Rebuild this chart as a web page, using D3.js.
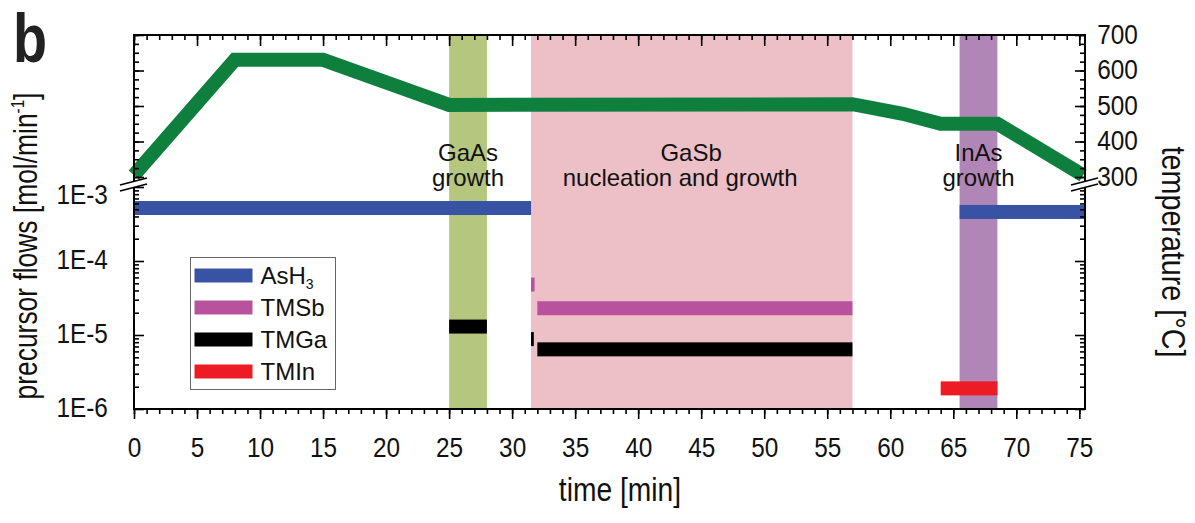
<!DOCTYPE html>
<html>
<head>
<meta charset="utf-8">
<script src="https://cdn.jsdelivr.net/npm/d3@7"></script>
<style>
    body { margin: 0; background: #fff; }
    text { font-family: "Liberation Sans", Arial, sans-serif; }
</style>
</head>
<body>
<svg id="chart" width="1195" height="523"></svg>
<script>
// temperature profile (green line), time in min / temperature in C
var tempTimes = [0, 8, 15, 25, 57, 61, 64, 68.5, 75.3];
var tempValues = [305, 630, 630, 503, 505, 478, 450, 450, 305];

// growth windows (shaded bands)
var bandLabels = [["GaAs", "growth"], ["GaSb", "nucleation and growth"], ["InAs", "growth"]];
var bandStart = [25, 31.5, 65.5];
var bandEnd = [28, 57, 68.5];
var bandColors = ["#b5c67f", "#edbfc6", "#b086b6"];

// precursor flows, each segment: [start, end, flow]
var precursors = ["AsH", "TMSb", "TMGa", "TMIn"];
var precursorColors = ["#3953a4", "#b9529d", "#000000", "#ed1c24"];
var ash3Flows = [[0, 31.5, 5.2e-4], [65.5, 75.45, 4.6e-4]];
var tmsbFlows = [[31.5, 31.78, 4.8e-5], [32, 57, 2.3e-5]];
var tmgaFlows = [[25, 28, 1.3e-5], [31.5, 31.72, 8.8e-6], [32, 57, 6.4e-6]];
var tminFlows = [[64, 68.5, 1.9e-6]];

// tick labels
var timeTicks = [0, 5, 10, 15, 20, 25, 30, 35, 40, 45, 50, 55, 60, 65, 70, 75];
var flowTicks = [1e-6, 1e-5, 1e-4, 1e-3];
var flowTickLabels = ["1E-6", "1E-5", "1E-4", "1E-3"];
var tempTicks = [300, 400, 500, 600, 700];

var svg = d3.select("#chart");

var plotLeft = 134, plotRight = 1085, plotTop = 35, plotBottom = 409;
var narrow = 0.87; // condensed look of the original tick font

var x = d3.scaleLinear().domain([0, 75.45]).range([plotLeft, plotRight]);
var yFlow = d3.scaleLog().domain([1e-6, 1e-3]).range([plotBottom, 187]);
var yTemp = d3.scaleLinear().domain([300, 700]).range([177, plotTop]);

var barHeight = 14;

// shaded growth windows
svg.append("g")
    .selectAll("rect")
    .data(bandStart).enter()
    .append("rect")
    .attr("x", function (d) { return x(d); })
    .attr("y", plotTop)
    .attr("width", function (d, i) { return x(bandEnd[i]) - x(d); })
    .attr("height", plotBottom - plotTop)
    .attr("fill", function (d, i) { return bandColors[i]; });

// precursor flow bars
var flowSeries = [ash3Flows, tmsbFlows, tmgaFlows, tminFlows];
flowSeries.forEach(function (segments, i) {
    svg.append("g")
        .selectAll("rect")
        .data(segments).enter()
        .append("rect")
        .attr("x", function (d) { return x(d[0]); })
        .attr("width", function (d) { return x(d[1]) - x(d[0]); })
        .attr("y", function (d) { return yFlow(d[2]) - barHeight / 2; })
        .attr("height", barHeight)
        .attr("fill", precursorColors[i]);
});

// temperature line
var tempLine = d3.line()
    .x(function (d) { return x(d); })
    .y(function (d, i) { return yTemp(tempValues[i]); });

svg.append("path")
    .datum(tempTimes)
    .attr("d", tempLine)
    .attr("fill", "none")
    .attr("stroke", "#0f7f3e")
    .attr("stroke-width", 14)
    .attr("stroke-linejoin", "miter");

// band annotations
var annotCenters = [26.5, 44.2, 67];
bandLabels.forEach(function (lines, i) {
    var t = svg.append("text")
        .attr("text-anchor", "middle")
        .attr("font-size", 24)
        .attr("fill", "#111");
    lines.forEach(function (line, j) {
        t.append("tspan")
            .attr("x", x(annotCenters[i]) - (i === 1 && j === 1 ? 11 : 0))
            .attr("y", 161 + j * 25)
            .text(line);
    });
});

// legend
var legend = svg.append("g").attr("transform", "translate(190.5,257.5)");
legend.append("rect")
    .attr("width", 145)
    .attr("height", 132)
    .attr("fill", "#fff")
    .attr("stroke", "#666")
    .attr("stroke-width", 1);
precursors.forEach(function (name, i) {
    var row = legend.append("g").attr("transform", "translate(0," + (18 + i * 32) + ")");
    row.append("rect")
        .attr("x", 4)
        .attr("y", -7)
        .attr("width", 58)
        .attr("height", 14)
        .attr("fill", precursorColors[i]);
    var label = row.append("text")
        .attr("x", 70)
        .attr("y", 8.5)
        .attr("font-size", 24)
        .attr("fill", "#111")
        .text(name);
    if (name === "AsH") {
        label.append("tspan").attr("font-size", 14).attr("dy", 5).text("3");
    }
});

// axes
function styleAxis(g) {
    g.select(".domain").remove();
    g.selectAll("line").attr("stroke", "#000").attr("stroke-width", 1.6);
    g.selectAll("text")
        .attr("font-family", null)
        .attr("font-size", 28)
        .attr("fill", "#111")
        .attr("transform", "scale(" + narrow + ",1)");
}

var timeMinor = d3.range(0, 76, 1);
var tempMinor = d3.range(300, 701, 25);
var flowMinor = [];
[1e-6, 1e-5, 1e-4].forEach(function (dec) {
    for (var k = 2; k <= 9; k++) flowMinor.push(dec * k);
});

// bottom
svg.append("g").attr("transform", "translate(0," + plotBottom + ")")
    .call(d3.axisBottom(x).tickValues(timeMinor).tickSize(5).tickFormat(""))
    .call(styleAxis);
svg.append("g").attr("transform", "translate(0," + plotBottom + ")")
    .call(d3.axisBottom(x).tickValues(timeTicks).tickSize(10).tickPadding(18))
    .call(styleAxis);

// top
svg.append("g").attr("transform", "translate(0," + plotTop + ")")
    .call(d3.axisTop(x).tickValues(timeMinor).tickSize(-5).tickFormat(""))
    .call(styleAxis);
svg.append("g").attr("transform", "translate(0," + plotTop + ")")
    .call(d3.axisTop(x).tickValues(timeTicks).tickSize(-11).tickFormat(""))
    .call(styleAxis);

// left, flow part
svg.append("g").attr("transform", "translate(" + plotLeft + ",0)")
    .call(d3.axisLeft(yFlow).tickValues(flowMinor).tickSize(-5).tickFormat(""))
    .call(styleAxis);
var leftFlow = svg.append("g").attr("transform", "translate(" + plotLeft + ",0)")
    .call(d3.axisLeft(yFlow).tickValues(flowTicks).tickSize(-10).tickPadding(30)
        .tickFormat(function (d, i) { return flowTickLabels[i]; }))
    .call(styleAxis);
leftFlow.selectAll("text").attr("dy", function (d) { return d === 1e-3 ? "0.6em" : "0.28em"; });

// left, temperature part
svg.append("g").attr("transform", "translate(" + plotLeft + ",0)")
    .call(d3.axisLeft(yTemp).tickValues(tempMinor).tickSize(-5).tickFormat(""))
    .call(styleAxis);
svg.append("g").attr("transform", "translate(" + plotLeft + ",0)")
    .call(d3.axisLeft(yTemp).tickValues(tempTicks).tickSize(-10).tickFormat(""))
    .call(styleAxis);

// right, flow part
svg.append("g").attr("transform", "translate(" + plotRight + ",0)")
    .call(d3.axisRight(yFlow).tickValues(flowMinor).tickSize(-5).tickFormat(""))
    .call(styleAxis);
svg.append("g").attr("transform", "translate(" + plotRight + ",0)")
    .call(d3.axisRight(yFlow).tickValues(flowTicks).tickSize(-10).tickFormat(""))
    .call(styleAxis);

// right, temperature part
svg.append("g").attr("transform", "translate(" + plotRight + ",0)")
    .call(d3.axisRight(yTemp).tickValues(tempMinor).tickSize(-5).tickFormat(""))
    .call(styleAxis);
var rightTemp = svg.append("g").attr("transform", "translate(" + plotRight + ",0)")
    .call(d3.axisRight(yTemp).tickValues(tempTicks).tickSize(-10).tickPadding(14))
    .call(styleAxis);
rightTemp.selectAll("text").attr("dy", "0.3em");

// frame
svg.append("rect")
    .attr("x", plotLeft)
    .attr("y", plotTop)
    .attr("width", plotRight - plotLeft)
    .attr("height", plotBottom - plotTop)
    .attr("fill", "none")
    .attr("stroke", "#000")
    .attr("stroke-width", 2);

// axis breaks
var breakY = (yTemp(300) + yFlow(1e-3)) / 2 + 2;
[plotLeft, plotRight].forEach(function (ax) {
    var g = svg.append("g").attr("transform", "translate(" + ax + "," + breakY + ")");
    g.append("polygon")
        .attr("points", "-14,1 13,-6 13,0 -14,7")
        .attr("fill", "#fff");
    g.append("line").attr("x1", -14).attr("y1", 1).attr("x2", 13).attr("y2", -6)
        .attr("stroke", "#000").attr("stroke-width", 1.8);
    g.append("line").attr("x1", -14).attr("y1", 7).attr("x2", 13).attr("y2", 0)
        .attr("stroke", "#000").attr("stroke-width", 1.8);
});

// axis titles
svg.append("text")
    .attr("transform", "translate(37,246) rotate(-90) scale(0.8,1)")
    .attr("text-anchor", "middle")
    .attr("font-size", 33)
    .attr("fill", "#111")
    .text("precursor flows [mol/min")
    .call(function (t) {
        t.append("tspan").attr("font-size", 19).attr("dy", -13).text("-1");
        t.append("tspan").attr("dy", 13).text("]");
    });

svg.append("text")
    .attr("transform", "translate(1162,252) rotate(90) scale(0.87,1)")
    .attr("text-anchor", "middle")
    .attr("font-size", 33)
    .attr("fill", "#111")
    .text("temperature [\u00B0C]");

svg.append("text")
    .attr("transform", "translate(620,501) scale(0.83,1)")
    .attr("text-anchor", "middle")
    .attr("font-size", 34)
    .attr("fill", "#111")
    .text("time [min]");

// panel letter
svg.append("text")
    .attr("transform", "translate(13,62) scale(0.82,1)")
    .attr("font-size", 68)
    .attr("font-weight", "bold")
    .attr("fill", "#222")
    .text("b");
</script>
</body>
</html>
